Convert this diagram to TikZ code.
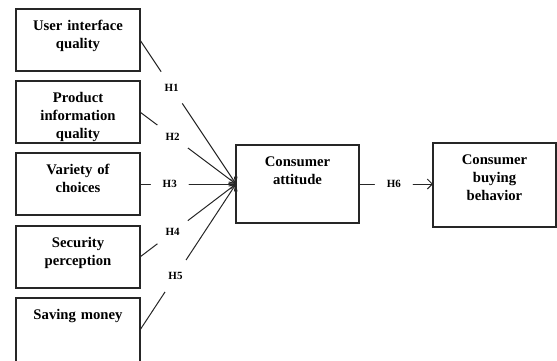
\documentclass[tikz,border=0pt]{standalone}
\usepackage{fontspec}
\setmainfont{Liberation Serif}
\usetikzlibrary{positioning,arrows.meta}

\begin{document}
\begin{tikzpicture}
[x=1pt,y=1pt,
 every node/.style={font=\fontsize{14.7}{18}\selectfont\bfseries,inner sep=0pt,outer sep=0pt},
 fac/.style={draw=black!85,line width=1.2pt,text width=124pt,align=center,text height=21pt,text depth=41pt},
 dep/.style={draw=black!85,line width=1.2pt,text width=123pt,align=center,text height=21pt},
 hyp/.style={circle,fill=white,minimum size=38pt,font=\fontsize{11}{13}\selectfont\bfseries},
 arr/.style={draw=black!85,line width=1pt,-{Straight Barb[length=5pt,width=10pt]}}]

\useasboundingbox (0,0) rectangle (557,-360);

% factors
\node[fac] (B1) at (78,-40)                   {User interface\\quality};
\node[fac] (B2) [on grid,below=72pt of B1]    {Product\\information\\quality};
\node[fac] (B3) [on grid,below=72pt of B2]    {Variety of\\choices};
\node[fac] (B4) [on grid,below=73pt of B3]    {Security\\perception};
\node[fac,text depth=43pt] (B5) [on grid,below=73pt of B4] {Saving money};

% outcomes
\node[dep,text depth=57pt] (Att) [on grid,right=219.5pt of B3] {Consumer\\attitude};
\node[dep,text depth=63pt] (Beh) [on grid,right=197pt of Att,yshift=-1pt] {Consumer\\buying\\behavior};

\draw[arr] (B1.east) -- node[hyp,pos=.33] {H1} (Att.west);
\draw[arr] (B2.east) -- node[hyp,pos=.34] {H2} (Att.west);
\draw[arr] (B3.east) -- node[hyp,pos=.31] {H3} (Att.west);
\draw[arr] (B4.east) -- node[hyp,pos=.34] {H4} (Att.west);
\draw[arr] (B5.east) -- node[hyp,pos=.37] {H5} (Att.west);

\draw[arr] (Att.east) -- node[hyp,pos=.47] {H6} (Beh.west |- Att.east);

\end{tikzpicture}
\end{document}
